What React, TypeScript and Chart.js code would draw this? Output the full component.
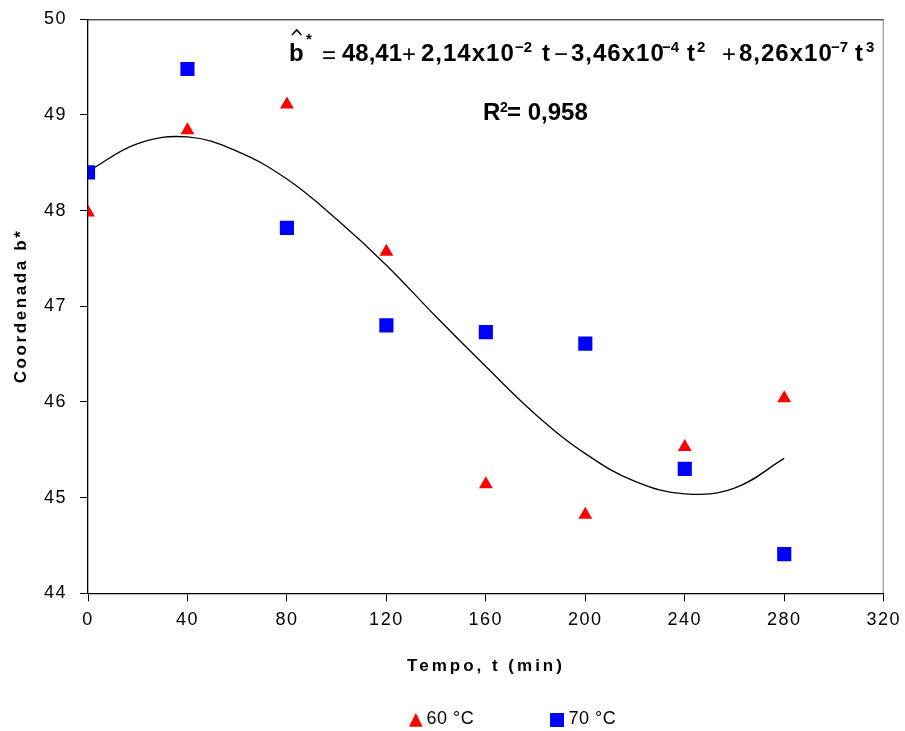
import React, { useEffect, useRef } from "react";
import { Chart, registerables } from "chart.js";

Chart.register(...registerables);

// ---- data ----
const times = [0, 40, 80, 120, 160, 200, 240, 280];
const b60 = [47.98, 48.84, 49.11, 47.57, 45.14, 44.82, 45.53, 46.04];
const b70 = [48.4, 49.48, 47.82, 46.8, 46.73, 46.61, 45.3, 44.41];
// fitted curve
const fitT = [0, 20, 40, 60, 80, 100, 120, 140, 160, 180, 200, 220, 240, 260, 280];
const fitB = [48.41, 48.7, 48.77, 48.62, 48.33, 47.91, 47.43, 46.89, 46.37, 45.87, 45.46, 45.17, 45.04, 45.1, 45.41];
const xTicks = [0, 40, 80, 120, 160, 200, 240, 280, 320];
const yTicks = [44, 45, 46, 47, 48, 49, 50];
const seriesNames = ["60 °C", "70 °C"];
const xTitle = "Tempo, t (min)";
const yTitle = "Coordenada b*";
const r2Text = "= 0,958";

const FONT = "'Liberation Sans', Arial, sans-serif";

type Seg = { x: number; y: number; t: string; f: string; ls?: number };

const eqSegs: Seg[] = [
  { x: 289, y: 61, t: "b", f: `bold 24px ${FONT}` },
  { x: 306, y: 44, t: "*", f: `bold 15px ${FONT}` },
  { x: 322, y: 63, t: "=", f: `24px ${FONT}` },
  { x: 342, y: 61, t: "48,41", f: `bold 24px ${FONT}` },
  { x: 402, y: 62, t: "+", f: `24px ${FONT}` },
  { x: 421, y: 61, t: "2,14x10", f: `bold 24px ${FONT}`, ls: 1 },
  { x: 515, y: 51.5, t: "\u22122", f: `bold 15px ${FONT}` },
  { x: 542, y: 61, t: "t", f: `bold 24px ${FONT}` },
  { x: 554, y: 62, t: "\u2212", f: `24px ${FONT}` },
  { x: 571, y: 61, t: "3,46x10", f: `bold 24px ${FONT}`, ls: 1 },
  { x: 662, y: 51.5, t: "\u22124", f: `bold 15px ${FONT}` },
  { x: 687, y: 61, t: "t", f: `bold 24px ${FONT}` },
  { x: 697, y: 51.5, t: "2", f: `bold 15px ${FONT}` },
  { x: 722, y: 62, t: "+", f: `24px ${FONT}` },
  { x: 739, y: 61, t: "8,26x10", f: `bold 24px ${FONT}`, ls: 1 },
  { x: 831, y: 51.5, t: "\u22127", f: `bold 15px ${FONT}` },
  { x: 855, y: 61, t: "t", f: `bold 24px ${FONT}` },
  { x: 866, y: 51.5, t: "3", f: `bold 15px ${FONT}` },
];

const r2Segs: Seg[] = [
  { x: 483, y: 120, t: "R", f: `bold 24px ${FONT}` },
  { x: 500, y: 112, t: "2", f: `bold 14px ${FONT}` },
  { x: 507, y: 120, t: r2Text, f: `bold 24px ${FONT}` },
];

const decorPlugin = {
  id: "decor",
  beforeDraw(chart: any) {
    (chart.ctx as any).letterSpacing = "1.5px";
  },
  afterDraw(chart: any) {
    const ctx = chart.ctx as CanvasRenderingContext2D & { letterSpacing: string };
    const a = chart.chartArea;
    ctx.save();
    // top and right frame
    ctx.lineWidth = 1;
    ctx.strokeStyle = "#000";
    ctx.beginPath();
    ctx.moveTo(a.left, a.top + 0.5);
    ctx.lineTo(a.right, a.top + 0.5);
    ctx.stroke();
    ctx.strokeStyle = "#808080";
    ctx.beginPath();
    ctx.moveTo(a.right - 0.5, a.top);
    ctx.lineTo(a.right - 0.5, a.bottom);
    ctx.stroke();

    ctx.fillStyle = "#000";
    ctx.textAlign = "left";
    ctx.textBaseline = "alphabetic";
    const drawSegs = (segs: Seg[]) => {
      for (const s of segs) {
        ctx.font = s.f;
        ctx.letterSpacing = `${s.ls ?? 0}px`;
        ctx.fillText(s.t, s.x, s.y);
      }
    };
    drawSegs(eqSegs);
    drawSegs(r2Segs);
    // hat over b
    ctx.strokeStyle = "#000";
    ctx.lineWidth = 1.6;
    ctx.beginPath();
    ctx.moveTo(292, 35);
    ctx.lineTo(296.7, 30);
    ctx.lineTo(301.4, 35);
    ctx.stroke();

    // axis titles
    ctx.font = `bold 17px ${FONT}`;
    ctx.letterSpacing = "3px";
    ctx.textAlign = "center";
    ctx.fillText(xTitle, 486, 670.5);
    ctx.save();
    ctx.translate(25.5, 306);
    ctx.rotate(-Math.PI / 2);
    ctx.letterSpacing = "2.6px";
    ctx.fillText(yTitle, 0, 0);
    ctx.restore();

    // legend
    ctx.letterSpacing = "0.5px";
    ctx.textAlign = "left";
    ctx.font = `18px ${FONT}`;
    ctx.fillStyle = "#FF0000";
    ctx.beginPath();
    ctx.moveTo(415.8, 713);
    ctx.lineTo(422.7, 726.7);
    ctx.lineTo(409, 726.7);
    ctx.closePath();
    ctx.fill();
    ctx.fillStyle = "#000";
    ctx.fillText(seriesNames[0], 426.5, 723.5);
    ctx.fillStyle = "#0000FF";
    ctx.fillRect(550, 713, 14, 14);
    ctx.fillStyle = "#000";
    ctx.fillText(seriesNames[1], 568.5, 723.5);
    ctx.restore();
    ctx.letterSpacing = "0px";
  },
};

export default function App() {
  const ref = useRef<HTMLCanvasElement | null>(null);
  useEffect(() => {
    document.body.style.margin = "0";
    const canvas = ref.current!;
    const chart = new Chart(canvas, {
      type: "scatter",
      data: {
        datasets: [
          {
            type: "line",
            label: "fit",
            data: fitT.map((t, i) => ({ x: t, y: fitB[i] })),
            borderColor: "#000",
            borderWidth: 1.3,
            pointRadius: 0,
            fill: false,
            tension: 0.4,
            order: 3,
          } as any,
          {
            label: seriesNames[0],
            data: times.map((t, i) => ({ x: t, y: b60[i] })),
            pointStyle: "triangle",
            pointRadius: 8,
            pointBorderWidth: 0,
            backgroundColor: "#FF0000",
            borderColor: "#FF0000",
            order: 2,
          },
          {
            label: seriesNames[1],
            data: times.map((t, i) => ({ x: t, y: b70[i] })),
            pointStyle: "rect",
            pointRadius: 10,
            pointBorderWidth: 0,
            backgroundColor: "#0000FF",
            borderColor: "#0000FF",
            order: 1,
          },
        ],
      },
      options: {
        responsive: false,
        animation: false,
        devicePixelRatio: 1,
        layout: { padding: { top: 19.3, right: 21.3, left: 0, bottom: 0 } },
        plugins: { legend: { display: false }, tooltip: { enabled: false } },
        scales: {
          x: {
            type: "linear",
            min: 0,
            max: 320,
            afterBuildTicks: (s: any) => {
              s.ticks = xTicks.map((v) => ({ value: v }));
            },
            afterFit: (s: any) => {
              s.height = 137.7;
              s.paddingLeft = 0;
              s.paddingRight = 0;
            },
            ticks: {
              color: "#000",
              font: { family: FONT, size: 18 },
              padding: 8,
              maxRotation: 0,
              autoSkip: false,
            },
            grid: {
              drawOnChartArea: false,
              drawTicks: true,
              tickLength: 8,
              color: "#000",
            },
            border: { color: "#000", width: 1.3 },
          },
          y: {
            type: "linear",
            min: 44,
            max: 50,
            afterBuildTicks: (s: any) => {
              s.ticks = yTicks.map((v) => ({ value: v }));
            },
            afterFit: (s: any) => {
              s.width = 88;
              s.paddingTop = 0;
              s.paddingBottom = 0;
            },
            ticks: {
              color: "#000",
              font: { family: FONT, size: 18 },
              padding: 13,
            },
            grid: {
              drawOnChartArea: false,
              drawTicks: true,
              tickLength: 8,
              color: "#000",
            },
            border: { color: "#000", width: 1.3 },
          },
        },
      } as any,
      plugins: [decorPlugin],
    });
    return () => chart.destroy();
  }, []);
  return (
    <div style={{ width: 905, height: 731, background: "#fff" }}>
      <canvas ref={ref} width={905} height={731} style={{ display: "block" }} />
    </div>
  );
}
